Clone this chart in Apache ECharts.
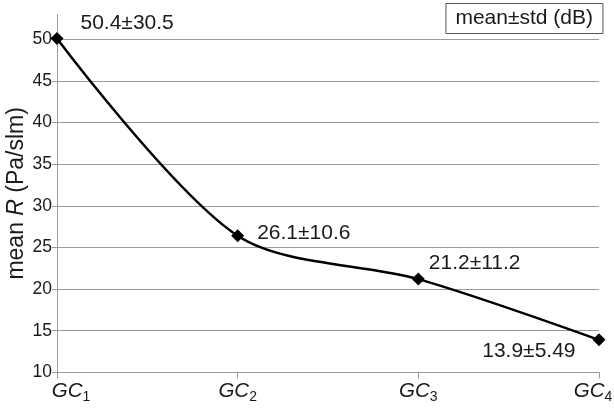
<!DOCTYPE html>
<html><head><meta charset="utf-8">
<script src="https://cdn.jsdelivr.net/npm/echarts@6/dist/echarts.min.js"></script>
<style>html,body{margin:0;padding:0;background:#fff}#c{width:614px;height:411px}</style>
</head><body><div id="c"></div>
<script>
var categories = ['1', '2', '3', '4'];
var meanValues = [50.1, 26.4, 21.2, 13.9];
var pointLabels = ['50.4±30.5', '26.1±10.6', '21.2±11.2', '13.9±5.49'];
var yTicks = [10, 15, 20, 25, 30, 35, 40, 45, 50];

var FONT = 'Liberation Sans, Arial, sans-serif';
var labelPlacements = [
  {position: 'right', offset: [12, -15]},
  {position: 'right', offset: [8, -3]},
  {position: 'right', offset: [-1, -16]},
  {position: 'left', offset: [-12, 11]}
];
var seriesData = meanValues.map(function (v, i) {
  return {value: v, label: {show: true, formatter: pointLabels[i], position: labelPlacements[i].position, offset: labelPlacements[i].offset}};
});
var splitColors = yTicks.map(function(){return '#9a9a9a';});
splitColors.push('rgba(0,0,0,0)');

var chart = echarts.init(document.getElementById('c'), null, {renderer: 'canvas'});
chart.setOption({
  animation: false,
  backgroundColor: '#fff',
  title: {
    text: 'mean±std (dB)', right: 11, top: 3,
    borderColor: '#555', borderWidth: 1, padding: [5, 10, 5, 10],
    textStyle: {fontFamily: FONT, fontSize: 21, fontWeight: 'normal', color: '#1a1a1a'}
  },
  grid: {left: 57, right: 15, top: 14.4, bottom: 38.7, containLabel: false, outerBoundsMode: 'none'},
  xAxis: {
    type: 'category', data: categories, boundaryGap: false,
    axisLine: {lineStyle: {color: '#9a9a9a', width: 1}},
    axisTick: {show: true, alignWithLabel: true, length: 6, lineStyle: {color: '#9a9a9a'}},
    axisLabel: {
      margin: 6, color: '#1a1a1a', interval: 0,
      formatter: function (v, idx) {
        return (idx === 0 ? '{p|}' : '') + '{i|GC}{s|' + v + '}' + (idx === 3 ? '{q|}' : '');
      },
      rich: {
        p: {width: 28},
        q: {width: 12},
        i: {fontFamily: FONT, fontStyle: 'italic', fontSize: 20.5, color: '#1a1a1a'},
        s: {fontFamily: FONT, fontSize: 14, color: '#1a1a1a', padding: [12, 0, 0, 0]}
      }
    }
  },
  yAxis: {
    type: 'value', min: 10, max: 53, interval: 5,
    name: '{a|mean }{b|R}{a| (Pa/slm)}', nameLocation: 'middle', nameGap: 29, nameRotate: 90,
    nameMoveOverlap: false,
    nameTextStyle: {
      rich: {
        a: {fontFamily: FONT, fontSize: 23, color: '#1a1a1a'},
        b: {fontFamily: FONT, fontSize: 23, fontStyle: 'italic', color: '#1a1a1a'}
      }
    },
    axisLine: {show: true, lineStyle: {color: '#9a9a9a', width: 1}},
    axisTick: {show: true, length: 5, lineStyle: {color: '#9a9a9a'}},
    axisLabel: {fontFamily: FONT, fontSize: 17.5, color: '#1a1a1a', margin: 5, showMaxLabel: false,
      formatter: function (v) { return yTicks.indexOf(v) >= 0 ? String(v) : ''; }},
    splitLine: {show: true, lineStyle: {color: splitColors, width: 1}}
  },
  series: [{
    type: 'line', data: seriesData, smooth: 0.3,
    symbol: 'diamond', symbolSize: 13,
    lineStyle: {color: '#000', width: 2.5},
    itemStyle: {color: '#000'},
    label: {fontFamily: FONT, fontSize: 21, color: '#1a1a1a'}
  }]
});
</script></body></html>
